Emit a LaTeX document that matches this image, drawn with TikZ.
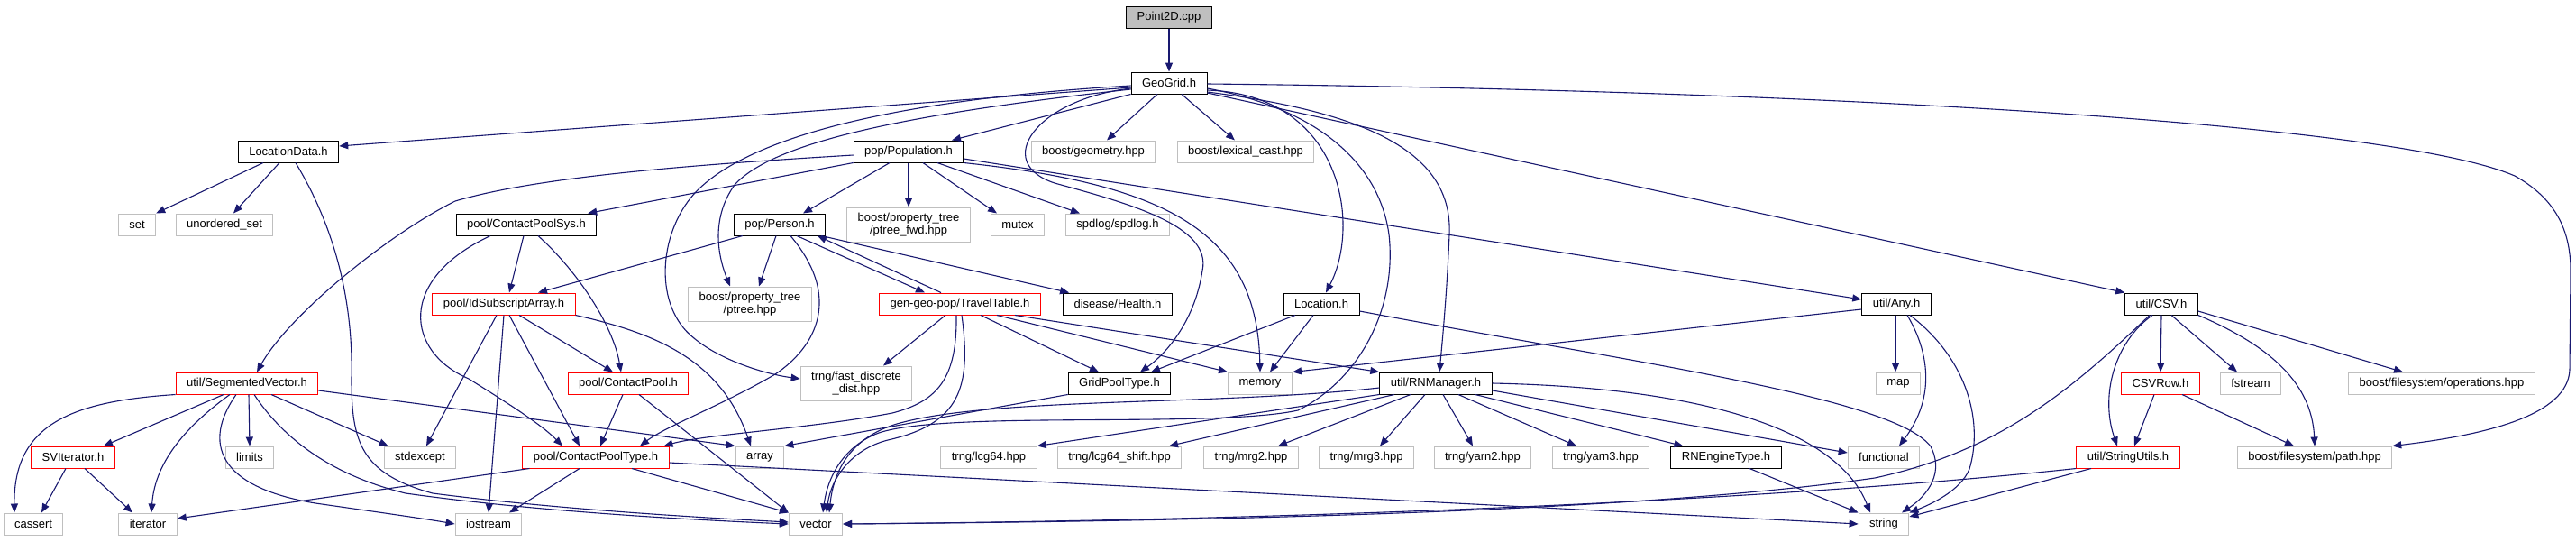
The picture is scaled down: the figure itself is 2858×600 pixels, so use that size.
\documentclass[tikz,border=0pt]{standalone}
\usepackage{fontspec}
\setmainfont{Liberation Sans}
\usetikzlibrary{arrows.meta,calc}
\definecolor{edgeblue}{HTML}{191970}
\definecolor{boxgray}{HTML}{BFBFBF}
\definecolor{boxred}{HTML}{FF0000}
\tikzset{
 nd/.style={rectangle, line width=1pt, minimum height=24pt, inner xsep=12pt, inner ysep=2pt, font=\fontsize{13}{14}\selectfont, align=center, text=black},
 bbox/.style={nd, draw=black},
 rbox/.style={nd, draw=boxred},
 gbox/.style={nd, draw=boxgray},
 two/.style={minimum height=38pt},
 e/.style={draw=edgeblue, line width=1.1pt, -{Triangle[length=10pt,width=8pt]}},
}
\begin{document}
\begin{tikzpicture}[x=1pt,y=-1pt]
\fill[white] (0,0) rectangle (2858,600);
\useasboundingbox (0,0) rectangle (2858,600);
% rank 0-1
\node[bbox, fill=boxgray] (P2D) at (1297,19) {Point2D.cpp};
\node[bbox] (GG) at (1297,92) {GeoGrid.h};
% rank 2
\node[bbox] (LD) at (320,168) {LocationData.h};
\node[bbox] (POP) at (1008,168) {pop/Population.h};
\node[gbox] (GEO) at (1213,168) {boost/geometry.hpp};
\node[gbox] (LEX) at (1382,168) {boost/lexical\_cast.hpp};
% rank 3
\node[gbox] (SET) at (152,249) {set};
\node[gbox] (USET) at (249,249) {unordered\_set};
\node[bbox] (CPS) at (584,249) {pool/ContactPoolSys.h};
\node[bbox] (PER) at (865,249) {pop/Person.h};
\node[gbox, two] (PTF) at (1008,249) {boost/property\_tree\\/ptree\_fwd.hpp};
\node[gbox] (MUT) at (1129,249) {mutex};
\node[gbox] (SPD) at (1240,249) {spdlog/spdlog.h};
% rank 4
\node[rbox] (IDS) at (559,337) {pool/IdSubscriptArray.h};
\node[gbox, two] (PT) at (832,337) {boost/property\_tree\\/ptree.hpp};
\node[rbox] (TT) at (1065,337) {gen-geo-pop/TravelTable.h};
\node[bbox] (HEA) at (1240,337) {disease/Health.h};
\node[bbox] (LOC) at (1466,337) {Location.h};
\node[bbox] (ANY) at (2104,337) {util/Any.h};
\node[bbox] (CSV) at (2398,337) {util/CSV.h};
% rank 5
\node[rbox] (SEG) at (274,425) {util/SegmentedVector.h};
\node[rbox] (CP) at (697,425) {pool/ContactPool.h};
\node[gbox, two] (FDD) at (950,425) {trng/fast\_discrete\\\_dist.hpp};
\node[bbox] (GPT) at (1242,425) {GridPoolType.h};
\node[gbox] (MEM) at (1398,425) {memory};
\node[bbox] (RNM) at (1593,425) {util/RNManager.h};
\node[gbox] (MAP) at (2106,425) {map};
\node[rbox] (CSVR) at (2397,425) {CSVRow.h};
\node[gbox] (FST) at (2497,425) {fstream};
\node[gbox] (OPS) at (2709,425) {boost/filesystem/operations.hpp};
% rank 6
\node[rbox] (SVI) at (81,507) {SVIterator.h};
\node[gbox] (LIM) at (277,507) {limits};
\node[gbox] (STDX) at (466,507) {stdexcept};
\node[rbox] (CPT) at (661,507) {pool/ContactPoolType.h};
\node[gbox] (ARR) at (843,507) {array};
\node[gbox] (L64) at (1097,507) {trng/lcg64.hpp};
\node[gbox] (L64S) at (1242,507) {trng/lcg64\_shift.hpp};
\node[gbox] (MRG2) at (1388,507) {trng/mrg2.hpp};
\node[gbox] (MRG3) at (1516,507) {trng/mrg3.hpp};
\node[gbox] (Y2) at (1645,507) {trng/yarn2.hpp};
\node[gbox] (Y3) at (1776,507) {trng/yarn3.hpp};
\node[bbox] (RNE) at (1915,507) {RNEngineType.h};
\node[gbox] (FUN) at (2090,507) {functional};
\node[rbox] (STU) at (2361,507) {util/StringUtils.h};
\node[gbox] (PATH) at (2568,507) {boost/filesystem/path.hpp};
% rank 7
\node[gbox] (CAS) at (37,581) {cassert};
\node[gbox] (ITR) at (164,581) {iterator};
\node[gbox] (IOS) at (542,581) {iostream};
\node[gbox] (VEC) at (905,581) {vector};
\node[gbox] (STR) at (2090,581) {string};

% ---- edges ----
\draw[e] (P2D) -- (GG);
% GeoGrid.h
\draw[e] ($(GG.west)+(0,5)$) -- ($(LD.east)+(0,-6)$);
\draw[e] (GG.south west) -- ($(POP.north)+(48,0)$);
\draw[e] ($(GG.south)+(-13,0)$) -- ($(GEO.north)+(15,0)$);
\draw[e] ($(GG.south)+(14,0)$) -- ($(LEX.north)+(-12,0)$);
\draw[e] ($(GG.east)+(0,8)$) .. controls (1490,105) and (1510,250) .. ($(LOC.north)+(5,0)$);
\draw[e] ($(GG.east)+(0,11)$) -- (CSV.north west);
\draw[e] ($(GG.east)+(0,1)$) .. controls (2000,100) and (2650,135) .. (2790,195) .. controls (2835,220) and (2852,255) .. (2852,300) -- (2851,410) .. controls (2849,460) and (2760,482) .. (PATH.north east);
\draw[e] ($(GG.east)+(0,10)$) .. controls (1520,125) and (1612,170) .. (1608,260) .. controls (1605,330) and (1600,380) .. ($(RNM.north)+(4,0)$);
\draw[e] ($(GG.east)+(0,6)$) .. controls (1460,120) and (1530,180) .. (1541,260) .. controls (1550,340) and (1510,420) .. (1440,455) .. controls (1350,475) and (1050,455) .. (975,480) .. controls (935,495) and (918,530) .. ($(VEC.north)+(8,0)$);
\draw[e] ($(GG.west)+(0,6)$) .. controls (1150,110) and (1100,180) .. (1170,203) .. controls (1250,225) and (1345,250) .. (1334,300) .. controls (1325,360) and (1290,395) .. ($(GPT.north)+(23,0)$);
\draw[e] ($(GG.west)+(0,7)$) .. controls (1020,125) and (860,155) .. (815,205) .. controls (790,240) and (795,280) .. ($(PT.north)+(-22,0)$);
\draw[e] ($(GG.west)+(0,3)$) .. controls (1000,110) and (830,150) .. (770,215) .. controls (730,260) and (725,340) .. (770,375) .. controls (800,400) and (850,415) .. ($(FDD.west)+(0,-5)$);
% LocationData.h
\draw[e] ($(LD.south)+(-28,0)$) -- (SET.north east);
\draw[e] ($(LD.south)+(-10,0)$) -- ($(USET.north)+(10,0)$);
\draw[e] ($(LD.south)+(8,0)$) .. controls (370,250) and (392,330) .. (390,420) .. controls (390,490) and (400,525) .. (480,547) .. controls (620,565) and (780,574) .. ($(VEC.west)+(0,-2)$);
% Population.h
\draw[e] (POP.south west) -- ($(CPS.north east)+(-10,0)$);
\draw[e] ($(POP.west)+(0,4)$) .. controls (780,182) and (600,195) .. (505,223) .. controls (430,260) and (320,350) .. ($(SEG.north)+(11,0)$);
\draw[e] ($(POP.south)+(-21,0)$) -- ($(PER.north)+(26,0)$);
\draw[e] (POP.south) -- (PTF.north);
\draw[e] ($(POP.south)+(16,0)$) -- ($(MUT.north)+(-23,0)$);
\draw[e] ($(POP.south)+(32,0)$) -- ($(SPD.north)+(-42,0)$);
\draw[e] ($(POP.east)+(0,8)$) -- ($(ANY.west)+(0,-5)$);
\draw[e] (POP.south east) .. controls (1300,205) and (1395,260) .. (MEM.north);
% ContactPoolSys.h
\draw[e] ($(CPS.south)+(-3,0)$) -- ($(IDS.north)+(6,0)$);
\draw[e] ($(CPS.south)+(13,0)$) .. controls (640,300) and (680,360) .. ($(CP.north)+(-8,0)$);
\draw[e] ($(CPS.south)+(-40,0)$) .. controls (440,310) and (450,390) .. (520,420) .. controls (560,445) and (600,470) .. ($(CPT.north)+(-37,0)$);
% Person.h
\draw[e] ($(PER.south west)+(10,0)$) -- ($(IDS.north)+(38,0)$);
\draw[e] ($(PER.south)+(-4,0)$) -- ($(PT.north)+(10,0)$);
\draw[e] ($(PER.south)+(19,0)$) -- ($(TT.north)+(-39,0)$);
\draw[e] ($(PER.south east)+(-5,0)$) -- ($(HEA.north west)+(7,0)$);
\draw[e] ($(PER.south)+(12,0)$) .. controls (935,330) and (905,385) .. (860,415) .. controls (800,450) and (740,472) .. ($(CPT.north)+(49,0)$);
% TravelTable.h
\draw[e] ($(TT.north)+(-21,0)$) -- ($(PER.south)+(42,0)$);
\draw[e] ($(TT.south)+(-16,0)$) -- ($(FDD.north)+(30,0)$);
\draw[e] ($(TT.south)+(23,0)$) -- ($(GPT.north)+(-23,0)$);
\draw[e] ($(TT.south)+(41,0)$) -- (MEM.north west);
\draw[e] ($(TT.south east)+(-29,0)$) -- (RNM.north west);
\draw[e] ($(TT.south)+(-4,0)$) .. controls (1062,420) and (1040,445) .. (990,458) .. controls (900,475) and (780,482) .. ($(CPT.north east)+(-6,0)$);
\draw[e] ($(TT.south)+(2,0)$) .. controls (1078,430) and (1065,470) .. (985,488) .. controls (945,498) and (922,530) .. ($(VEC.north)+(12,0)$);
% IdSubscriptArray.h
\draw[e] ($(IDS.south)+(17,0)$) -- ($(CP.north)+(-17,0)$);
\draw[e] ($(IDS.south)+(6,0)$) -- ($(CPT.north)+(-18,0)$);
\draw[e] ($(IDS.south)+(-8,0)$) -- ($(STDX.north)+(7,0)$);
\draw[e] (IDS.south) -- (IOS.north);
\draw[e] (IDS.south east) .. controls (730,370) and (800,400) .. ($(ARR.north)+(-10,0)$);
% ContactPool.h
\draw[e] ($(CP.south)+(-6,0)$) -- ($(CPT.north)+(5,0)$);
\draw[e] ($(CP.south)+(12,0)$) -- (VEC.north west);
% SegmentedVector.h
\draw[e] (SEG.south west) .. controls (80,445) and (15,470) .. ($(CAS.north)+(-21,0)$);
\draw[e] ($(SEG.south)+(-26,0)$) -- ($(SVI.north)+(34,0)$);
\draw[e] ($(SEG.south)+(-19,0)$) .. controls (210,470) and (172,510) .. ($(ITR.north)+(4,0)$);
\draw[e] ($(SEG.south)+(2,0)$) -- (LIM.north);
\draw[e] ($(SEG.south)+(-12,0)$) .. controls (225,490) and (240,540) .. (350,558) .. controls (420,568) and (470,575) .. (IOS.west);
\draw[e] ($(SEG.south)+(27,0)$) -- ($(STDX.north west)+(5,0)$);
\draw[e] ($(SEG.east)+(0,8)$) -- (ARR.north west);
\draw[e] ($(SEG.south)+(8,0)$) .. controls (310,480) and (360,525) .. (450,547) .. controls (600,568) and (780,577) .. (VEC.west);
% SVIterator.h
\draw[e] ($(SVI.south)+(-8,0)$) -- ($(CAS.north)+(9,0)$);
\draw[e] ($(SVI.south)+(13,0)$) -- ($(ITR.north)+(-17,0)$);
% ContactPoolType.h
\draw[e] ($(CPT.south west)+(8,0)$) -- ($(ITR.east)+(0,-6)$);
\draw[e] ($(CPT.south)+(-18,0)$) -- ($(IOS.north)+(23,0)$);
\draw[e] ($(CPT.south)+(40,0)$) -- (VEC.north west);
\draw[e] ($(CPT.east)+(0,6)$) -- (STR.west);
% GridPoolType.h
\draw[e] (GPT.south west) -- (ARR.north east);
% Location.h
\draw[e] ($(LOC.south)+(-29,0)$) -- ($(GPT.north)+(35,0)$);
\draw[e] ($(LOC.south)+(-9,0)$) -- ($(MEM.north)+(11,0)$);
\draw[e] ($(LOC.east)+(0,8)$) .. controls (1800,400) and (2100,440) .. (2142,495) .. controls (2160,530) and (2130,555) .. ($(STR.north)+(20,0)$);
% util/Any.h
\draw[e] ($(ANY.west)+(0,6)$) -- (MEM.north east);
\draw[e] ($(ANY.south)+(-1,0)$) -- ($(MAP.north)+(-3,0)$);
\draw[e] ($(ANY.south)+(12,0)$) .. controls (2140,390) and (2148,440) .. ($(FUN.north)+(17,0)$);
\draw[e] ($(ANY.south)+(15,0)$) .. controls (2185,400) and (2200,470) .. (2185,520) .. controls (2175,545) and (2140,560) .. (STR.north east);
% util/RNManager.h
\draw[e] (RNM.south west) -- (L64.north east);
\draw[e] ($(RNM.south)+(-46,0)$) -- ($(L64S.north)+(55,0)$);
\draw[e] ($(RNM.south)+(-28,0)$) -- ($(MRG2.north)+(30,0)$);
\draw[e] ($(RNM.south)+(-12,0)$) -- ($(MRG3.north)+(15,0)$);
\draw[e] ($(RNM.south)+(8,0)$) -- ($(Y2.north)+(-11,0)$);
\draw[e] ($(RNM.south)+(25,0)$) -- ($(Y3.north)+(-27,0)$);
\draw[e] ($(RNM.south east)+(-19,0)$) -- ($(RNE.north west)+(14,0)$);
\draw[e] ($(RNM.east)+(0,8)$) -- ($(FUN.west)+(0,-5)$);
\draw[e] (RNM.east) .. controls (1900,430) and (2040,480) .. ($(STR.north)+(-15,0)$);
\draw[e] ($(RNM.west)+(0,5)$) .. controls (1350,450) and (1100,440) .. (995,470) .. controls (945,485) and (925,520) .. ($(VEC.north)+(15,0)$);
% RNEngineType.h
\draw[e] ($(RNE.south)+(26,0)$) -- (STR.north west);
% util/CSV.h
\draw[e] ($(CSV.south)+(-13,0)$) .. controls (2300,430) and (2220,500) .. (2080,530) .. controls (1800,570) and (1300,578) .. (VEC.east);
\draw[e] ($(CSV.south)+(-10,0)$) .. controls (2345,380) and (2330,440) .. ($(STU.north)+(-12,0)$);
\draw[e] (CSV.south) -- (CSVR.north);
\draw[e] ($(CSV.south)+(11,0)$) -- ($(FST.north)+(-15,0)$);
\draw[e] (CSV.south east) .. controls (2510,380) and (2565,420) .. (PATH.north);
\draw[e] ($(CSV.east)+(0,8)$) -- ($(OPS.north)+(-43,0)$);
% CSVRow.h
\draw[e] ($(CSVR.south)+(-7,0)$) -- ($(STU.north)+(7,0)$);
\draw[e] ($(CSVR.south)+(24,0)$) -- ($(PATH.north)+(-23,0)$);
% util/StringUtils.h
\draw[e] (STU.south west) .. controls (2000,552) and (1500,576) .. (VEC.east);
\draw[e] ($(STU.south)+(-41,0)$) -- ($(STR.east)+(0,-8)$);
\end{tikzpicture}
\end{document}
